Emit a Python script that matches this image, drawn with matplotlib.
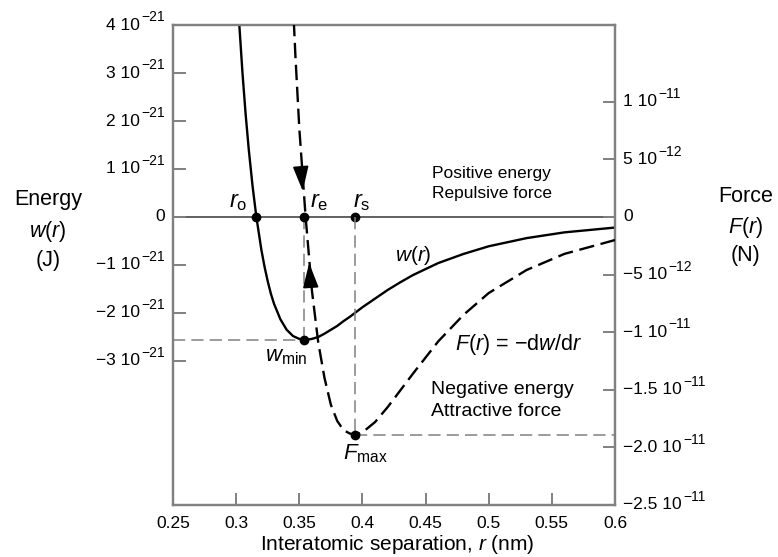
import matplotlib
matplotlib.use('Agg')
import matplotlib.pyplot as plt

plt.rcParams['font.family'] = ['Liberation Sans', 'DejaVu Sans']
plt.rcParams['mathtext.fontset'] = 'custom'
plt.rcParams['mathtext.rm'] = 'Liberation Sans'
plt.rcParams['mathtext.it'] = 'Liberation Sans:italic'
plt.rcParams['mathtext.bf'] = 'Liberation Sans:bold'

# energy curve w(r), values in 1e-21 J
r_w = [0.302, 0.305, 0.3075, 0.31, 0.313, 0.316, 0.32, 0.3225, 0.325, 0.3275, 0.33,
       0.335, 0.34, 0.345, 0.35, 0.355, 0.36, 0.365, 0.37, 0.375, 0.38, 0.385, 0.39,
       0.40, 0.41, 0.42, 0.43, 0.44, 0.46, 0.48, 0.50, 0.53, 0.56, 0.60]
w_vals = [4.20, 3.00, 2.14, 1.40, 0.64, 0.0, -0.69, -1.04, -1.34, -1.60, -1.81,
          -2.13, -2.35, -2.48, -2.54, -2.56, -2.54, -2.50, -2.43, -2.35, -2.27, -2.17, -2.08,
          -1.88, -1.70, -1.52, -1.36, -1.21, -0.96, -0.77, -0.61, -0.44, -0.32, -0.22]

# force curve F(r), values in 1e-11 N
r_F = [0.343, 0.345, 0.347, 0.35, 0.355, 0.36, 0.365, 0.37, 0.375, 0.38, 0.385,
       0.39, 0.395, 0.40, 0.41, 0.42, 0.44, 0.46, 0.48, 0.50, 0.53, 0.56, 0.60]
F_vals = [2.38, 1.85, 1.38, 0.77, 0.0, -0.64, -1.09, -1.40, -1.63, -1.77, -1.85,
          -1.88, -1.89, -1.87, -1.78, -1.65, -1.36, -1.08, -0.85, -0.66, -0.46, -0.32, -0.20]

# marked points
r_o, r_e, r_s = 0.316, 0.3535, 0.394
w_min = -2.56   # 1e-21 J
F_max = -1.89   # 1e-11 N

x_ticks = [0.25, 0.3, 0.35, 0.4, 0.45, 0.5, 0.55, 0.6]
x_labels = ['0.25', '0.3', '0.35', '0.4', '0.45', '0.5', '0.55', '0.6']
w_ticks = [4e-21, 3e-21, 2e-21, 1e-21, 0, -1e-21, -2e-21, -3e-21]
w_mant = ['4 10', '3 10', '2 10', '1 10', '0', '\u22121 10', '\u22122 10', '\u22123 10']
w_exp = ['\u221221', '\u221221', '\u221221', '\u221221', '', '\u221221', '\u221221', '\u221221']
F_ticks = [1e-11, 5e-12, 0, -5e-12, -1e-11, -1.5e-11, -2e-11, -2.5e-11]
F_mant = ['1 10', '5 10', '0', '\u22125 10', '\u22121 10', '\u22121.5 10', '\u22122.0 10', '\u22122.5 10']
F_exp = ['\u221211', '\u221212', '', '\u221212', '\u221211', '\u221211', '\u221211', '\u221211']

grey = '#808080'
fs = 12.5
fs_exp = 10

fig = plt.figure(figsize=(7.78, 5.57), dpi=100)
ax = fig.add_axes([0.2224, 0.0934, 0.5681, 0.8617])
ax2 = ax.twinx()

ax.set_xlim(0.25, 0.6)
ax.set_ylim(-6e-21, 4e-21)
ax2.set_ylim(-2.5e-11, 2.5e-11 / 1.5)

for a in (ax, ax2):
    for s in a.spines.values():
        s.set_color(grey)
        s.set_linewidth(1.6)

ax.set_xticks(x_ticks)
ax.set_xticklabels(x_labels)
ax.set_yticks(w_ticks)
ax.set_yticklabels([])
ax2.set_yticks(F_ticks)
ax2.set_yticklabels([])
ax.tick_params(axis='both', direction='in', length=9, width=1.4, color=grey,
               labelsize=fs, pad=6)
ax.tick_params(axis='x', pad=8)
ax2.tick_params(axis='y', direction='in', length=9, width=1.4, color=grey)

# tick labels with separate superscript exponent
ytr = ax.get_yaxis_transform()
for t, m, e in zip(w_ticks, w_mant, w_exp):
    if e:
        ex = ax.annotate(e, xy=(0, t), xycoords=ytr, xytext=(-6, 0.5),
                         textcoords='offset points', ha='right', va='bottom', fontsize=fs_exp)
        ax.annotate(m, xy=(0, t), xycoords=(ex, ax.transData), xytext=(-0.8, 0),
                    textcoords='offset points', ha='right', va='center', fontsize=fs)
    else:
        ax.annotate(m, xy=(0, t), xycoords=ytr, xytext=(-6, 0),
                    textcoords='offset points', ha='right', va='center', fontsize=fs)

ytr2 = ax2.get_yaxis_transform()
for t, m, e in zip(F_ticks, F_mant, F_exp):
    mt = ax2.annotate(m, xy=(1, t), xycoords=ytr2, xytext=(6, 0),
                      textcoords='offset points', ha='left', va='center', fontsize=fs)
    if e:
        ax2.annotate(e, xy=(1, t), xycoords=(mt, ax2.transData), xytext=(0.8, 0.5),
                     textcoords='offset points', ha='left', va='bottom', fontsize=fs_exp)

# zero line
ax.axhline(0, color='#555555', lw=1.3, zorder=1)

# helper dashed lines
hd = dict(color=grey, lw=1.1, dashes=(8, 4))
ax.plot([0.25, r_e], [w_min * 1e-21, w_min * 1e-21], **hd)
ax.plot([r_e, r_e], [0, w_min * 1e-21], **hd)
ax2.plot([r_s, r_s], [0, F_max * 1e-11], **hd)
ax2.plot([r_s, 0.6], [F_max * 1e-11, F_max * 1e-11], **hd)

# curves
ax.plot(r_w, [v * 1e-21 for v in w_vals], color='black', lw=1.7, zorder=3)
ax2.plot(r_F, [v * 1e-11 for v in F_vals], color='black', lw=1.7,
         dashes=(6.5, 2.8), zorder=3)

# dots
ax.plot([r_o, r_e, r_s], [0, 0, 0], 'o', color='black', ms=6, zorder=4)
ax.plot([r_e], [w_min * 1e-21], 'o', color='black', ms=6, zorder=4)
ax2.plot([r_s], [F_max * 1e-11], 'o', color='black', ms=6, zorder=4)

# arrows on force curve
ap = dict(arrowstyle='-|>,head_length=1.1,head_width=0.35', color='black', lw=1.2,
          shrinkA=0, shrinkB=0, mutation_scale=14)
ax2.annotate('', xy=(0.3527, 0.226e-11), xytext=(0.3514, 0.40e-11), arrowprops=ap)
ax2.annotate('', xy=(0.3578, -0.40e-11), xytext=(0.3590, -0.60e-11), arrowprops=ap)

# labels in plot
ax.text(0.3013, 0.31e-21, '$r_{\\mathrm{o}}$', fontsize=17, ha='center', va='center')
ax.text(0.3661, 0.31e-21, '$r_{\\mathrm{e}}$', fontsize=17, ha='center', va='center')
ax.text(0.3993, 0.31e-21, '$r_{\\mathrm{s}}$', fontsize=17, ha='center', va='center')
ax.text(0.4404, -0.81e-21, '$w(r)$', fontsize=15, ha='center', va='center')
ax.text(0.3393, -2.90e-21, '$w_{\\mathrm{min}}$', fontsize=16, ha='center', va='center')
ax.text(0.4025, -4.94e-21, '$F_{\\mathrm{max}}$', fontsize=16, ha='center', va='center')
ax.text(0.4735, -2.65e-21, '$F(r)$ = \u2212d$w$/d$r$', fontsize=15.5, ha='left', va='center')
ax.text(0.4554, 0.90e-21, 'Positive energy', fontsize=12.5, ha='left', va='center')
ax.text(0.4554, 0.48e-21, 'Repulsive force', fontsize=12.5, ha='left', va='center')
ax.text(0.4546, -3.60e-21, 'Negative energy', fontsize=14, ha='left', va='center')
ax.text(0.4546, -4.06e-21, 'Attractive force', fontsize=14, ha='left', va='center')

# axis titles
ft = 15.5
fig.text(48 / 778, 1 - 200 / 557, 'Energy', fontsize=ft, ha='center', va='center')
fig.text(48 / 778, 1 - 231 / 557, '$w(r)$', fontsize=ft, ha='center', va='center')
fig.text(48 / 778, 1 - 261 / 557, '(J)', fontsize=ft, ha='center', va='center')
fig.text(746 / 778, 1 - 197 / 557, 'Force', fontsize=ft, ha='center', va='center')
fig.text(746 / 778, 1 - 228 / 557, '$F(r)$', fontsize=ft, ha='center', va='center')
fig.text(746 / 778, 1 - 256 / 557, '(N)', fontsize=ft, ha='center', va='center')
fig.text(397 / 778, 1 - 544 / 557, 'Interatomic separation, $r$ (nm)', fontsize=15,
         ha='center', va='center')

fig.savefig('out.png', dpi=100)
